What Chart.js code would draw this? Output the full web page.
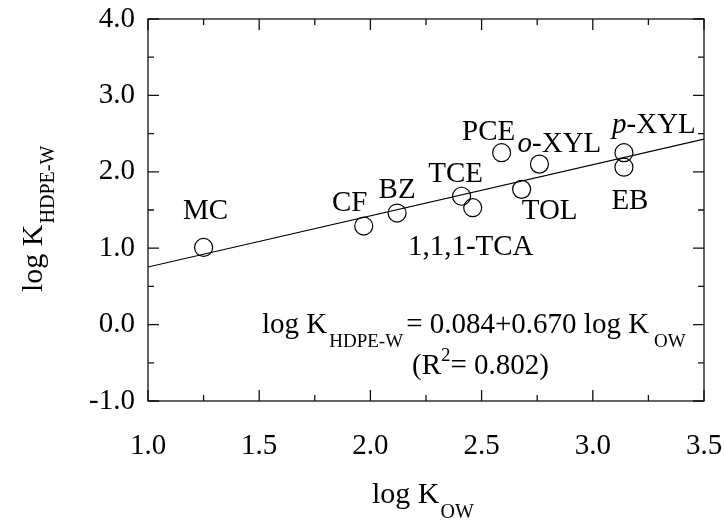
<!DOCTYPE html>
<html>
<head>
<meta charset="utf-8">
<script src="https://cdn.jsdelivr.net/npm/chart.js@4.4.0/dist/chart.umd.min.js"></script>
<style>
  html, body { margin: 0; padding: 0; background: #fff; }
  #wrap { width: 725px; height: 521px; }
</style>
</head>
<body>
<div id="wrap"><canvas id="kChart"></canvas></div>
<script>
const compounds = ["MC", "CF", "BZ", "TCE", "1,1,1-TCA", "TOL", "PCE", "o-XYL", "p-XYL", "EB"];
const logKow = [1.25, 1.97, 2.12, 2.41, 2.46, 2.68, 2.59, 2.76, 3.14, 3.14];
const logKhdpe = [1.01, 1.29, 1.46, 1.68, 1.53, 1.77, 2.25, 2.10, 2.25, 2.06];
const fitX = [1.0, 3.5];
const fitCoef = [0.084, 0.670]; // intercept, slope
const xTicks = [1.0, 1.5, 2.0, 2.5, 3.0, 3.5];
const yTicks = [-1.0, 0.0, 1.0, 2.0, 3.0, 4.0];

// label placement relative to the circle (centre x offset, baseline y offset), px
const labelOffsets = [
  [2, -28], [-14, -15], [0, -15], [-6, -14], [-2, 47],
  [28, 30], [-13, -13], [20, -12], [30, -20], [6, 42],
];

const SERIF = '"Liberation Serif", "Times New Roman", serif';

function font(size, italic) {
  return `${italic ? "italic " : ""}${size}px ${SERIF}`;
}

function runsWidth(ctx, runs) {
  let w = 0;
  for (const r of runs) {
    ctx.font = font(r.size, r.italic);
    w += ctx.measureText(r.text).width + (r.gap || 0);
  }
  return w;
}

function drawRuns(ctx, runs, x, y) {
  for (const r of runs) {
    ctx.font = font(r.size, r.italic);
    ctx.fillText(r.text, x, y + (r.dy || 0));
    x += ctx.measureText(r.text).width + (r.gap || 0);
  }
}

function labelRuns(name) {
  const m = name.match(/^([op])(-.*)$/);
  if (m) return [{ text: m[1], size: 29, italic: true }, { text: m[2], size: 29 }];
  return [{ text: name, size: 29 }];
}

const framePlugin = {
  id: "frame",
  afterDraw(chart) {
    const { ctx, chartArea: a, scales } = chart;
    const xs = scales.x, ys = scales.y;
    ctx.save();
    ctx.strokeStyle = "#111";
    ctx.lineWidth = 1.3;
    ctx.strokeRect(a.left, a.top, a.right - a.left, a.bottom - a.top);

    // inward ticks on all four sides
    ctx.beginPath();
    for (let v = 1.0; v <= 3.5001; v += 0.25) {
      const px = xs.getPixelForValue(v);
      const len = Math.abs(v * 2 - Math.round(v * 2)) < 1e-6 ? 11 : 6;
      ctx.moveTo(px, a.bottom); ctx.lineTo(px, a.bottom - len);
      ctx.moveTo(px, a.top); ctx.lineTo(px, a.top + len);
    }
    for (let v = -1.0; v <= 4.0001; v += 0.5) {
      const py = ys.getPixelForValue(v);
      const len = Math.abs(v - Math.round(v)) < 1e-6 ? 11 : 6;
      ctx.moveTo(a.left, py); ctx.lineTo(a.left + len, py);
      ctx.moveTo(a.right, py); ctx.lineTo(a.right - len, py);
    }
    ctx.stroke();

    ctx.fillStyle = "#000";
    ctx.textBaseline = "alphabetic";
    ctx.textAlign = "left";

    // compound labels
    const meta = chart.getDatasetMeta(0);
    meta.data.forEach((pt, i) => {
      const runs = labelRuns(compounds[i]);
      const w = runsWidth(ctx, runs);
      const [dx, dy] = labelOffsets[i];
      drawRuns(ctx, runs, pt.x + dx - w / 2, pt.y + dy);
    });

    // regression equation
    drawRuns(ctx, [
      { text: "log K", size: 29, gap: 2 },
      { text: "HDPE-W", size: 19, dy: 14, gap: 3 },
      { text: "= " + fitCoef[0].toFixed(3) + "+" + fitCoef[1].toFixed(3) + " log K", size: 29, gap: 5 },
      { text: "OW", size: 19, dy: 14 },
    ], a.left + 114, a.top + 314);
    drawRuns(ctx, [
      { text: "(R", size: 29 },
      { text: "2", size: 19, dy: -13 },
      { text: "= 0.802)", size: 29 },
    ], a.left + 264, a.top + 355);

    // x axis title
    drawRuns(ctx, [
      { text: "log K", size: 30, gap: 1 },
      { text: "OW", size: 20, dy: 15 },
    ], 372, 503);

    // y axis title
    ctx.translate(42, 292);
    ctx.rotate(-Math.PI / 2);
    drawRuns(ctx, [
      { text: "log K", size: 30, gap: 1 },
      { text: "HDPE-W", size: 20, dy: 12 },
    ], 0, 0);
    ctx.restore();
  },
};

function createKChart() {
  const ctx = document.getElementById("kChart");
  if (!ctx) return;

  return new Chart(ctx, {
    type: "scatter",
    data: {
      datasets: [
        {
          label: "compounds",
          data: logKow.map((x, i) => ({ x, y: logKhdpe[i] })),
          pointRadius: 9,
          pointBorderWidth: 1.2,
          pointBorderColor: "#000",
          pointBackgroundColor: "rgba(0,0,0,0)",
          showLine: false,
        },
        {
          label: "fit",
          type: "line",
          data: fitX.map((x) => ({ x, y: fitCoef[0] + fitCoef[1] * x })),
          borderColor: "#000",
          borderWidth: 1.2,
          pointRadius: 0,
          fill: false,
        },
      ],
    },
    options: {
      responsive: true,
      maintainAspectRatio: false,
      animation: false,
      events: [],
      layout: { padding: { top: 19, right: 21, left: 0, bottom: 0 } },
      plugins: {
        legend: { display: false },
        tooltip: { enabled: false },
      },
      scales: {
        x: {
          type: "linear",
          min: 1.0,
          max: 3.5,
          afterBuildTicks: (s) => { s.ticks = xTicks.map((v) => ({ value: v })); },
          afterFit: (s) => {
            s.height = 120;
            s.paddingLeft = 0;
            s.paddingRight = 0;
          },
          grid: { display: false, drawTicks: false },
          border: { display: false },
          ticks: {
            color: "#000",
            font: { family: SERIF, size: 29 },
            padding: 28,
            maxRotation: 0,
            autoSkip: false,
            callback: (v) => Number(v).toFixed(1),
          },
        },
        y: {
          type: "linear",
          min: -1.0,
          max: 4.0,
          afterBuildTicks: (s) => { s.ticks = yTicks.map((v) => ({ value: v })); },
          afterFit: (s) => {
            s.width = 148;
            s.paddingTop = 0;
            s.paddingBottom = 0;
          },
          grid: { display: false, drawTicks: false },
          border: { display: false },
          ticks: {
            color: "#000",
            font: { family: SERIF, size: 29 },
            padding: 13,
            autoSkip: false,
            callback: (v) => Number(v).toFixed(1),
          },
        },
      },
    },
    plugins: [framePlugin],
  });
}

document.addEventListener("DOMContentLoaded", createKChart);
</script>
</body>
</html>
